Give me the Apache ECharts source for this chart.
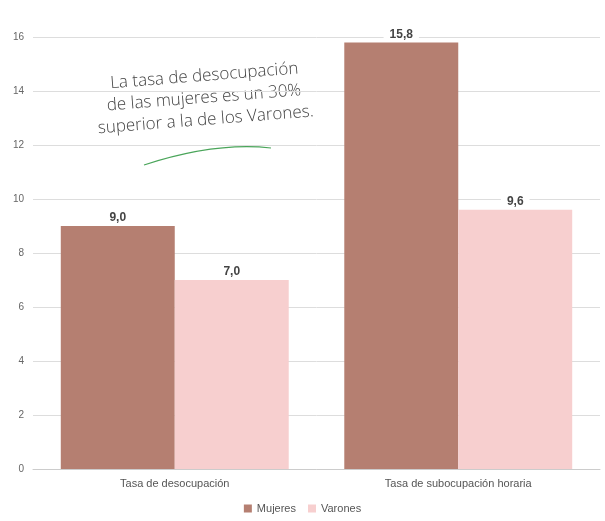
<!DOCTYPE html>
<html><head><meta charset="utf-8">
<script src="https://cdn.jsdelivr.net/npm/echarts@6/dist/echarts.min.js"></script>
<style>html,body{margin:0;padding:0;background:#fff}#c{width:605px;height:521px}</style>
</head><body><div id="c"></div>
<script>
const categories = ['Tasa de desocupación', 'Tasa de subocupación horaria'];
const mujeres = [9.0, 15.8];
const varones = [7.0, 9.6];

const chart = echarts.init(document.getElementById('c'));
const lbl = {
  show: true, position: 'top', distance: 2,
  color: '#444', fontSize: 12, fontWeight: 'bold', fontFamily: 'Liberation Sans',
  backgroundColor: '#fff', padding: [0, 6],
  formatter: p => p.value.toFixed(1).replace('.', ',')
};
const note = '300 17px "Open Sans"';
chart.setOption({
  animation: false,
  grid: {left: 33, right: 5, top: 37, bottom: 52},
  legend: {
    bottom: 2, left: 'center', itemWidth: 8, itemHeight: 8, itemGap: 12,
    icon: 'rect',
    textStyle: {color: '#555', fontSize: 11, fontFamily: 'Liberation Sans'},
    data: ['Mujeres', 'Varones']
  },
  xAxis: {
    type: 'category', data: categories,
    axisLine: {lineStyle: {color: '#ccc'}}, axisTick: {show: false},
    axisLabel: {color: '#555', fontSize: 11, fontFamily: 'Liberation Sans', margin: 9}
  },
  yAxis: {
    type: 'value', min: 0, max: 16, interval: 2,
    axisLine: {show: false}, axisTick: {show: false},
    splitLine: {lineStyle: {color: '#ddd', width: 1}},
    axisLabel: {color: '#666', fontSize: 10, fontFamily: 'Liberation Sans', margin: 9}
  },
  series: [
    {name: 'Mujeres', type: 'bar', data: mujeres, barWidth: '40.2%', barGap: '0%',
     itemStyle: {color: '#b57f71'}, label: lbl},
    {name: 'Varones', type: 'bar', data: varones, barWidth: '40.2%', barGap: '0%',
     itemStyle: {color: '#f7cfcf'}, label: lbl}
  ],
  graphic: [
    {type: 'group', x: 204, y: 98, rotation: 4.5 * Math.PI / 180, children: [
      {type: 'text', style: {text: 'La tasa de desocupación', x: 2, y: -22, align: 'center', verticalAlign: 'middle',
        fill: '#444', font: note}},
      {type: 'text', style: {text: 'de las mujeres es un 30%', x: 0, y: 0, align: 'center', verticalAlign: 'middle',
        fill: '#444', font: note}},
      {type: 'text', style: {text: 'superior a la de los Varones.', x: 0, y: 22, align: 'center', verticalAlign: 'middle',
        fill: '#444', font: note}}
    ]},
    {type: 'bezierCurve', shape: {x1: 144, y1: 165, cpx1: 190, cpy1: 150, cpx2: 235, cpy2: 144, x2: 271, y2: 148},
     style: {stroke: '#4aa55a', lineWidth: 1.2, fill: null}}
  ]
});
</script></body></html>
